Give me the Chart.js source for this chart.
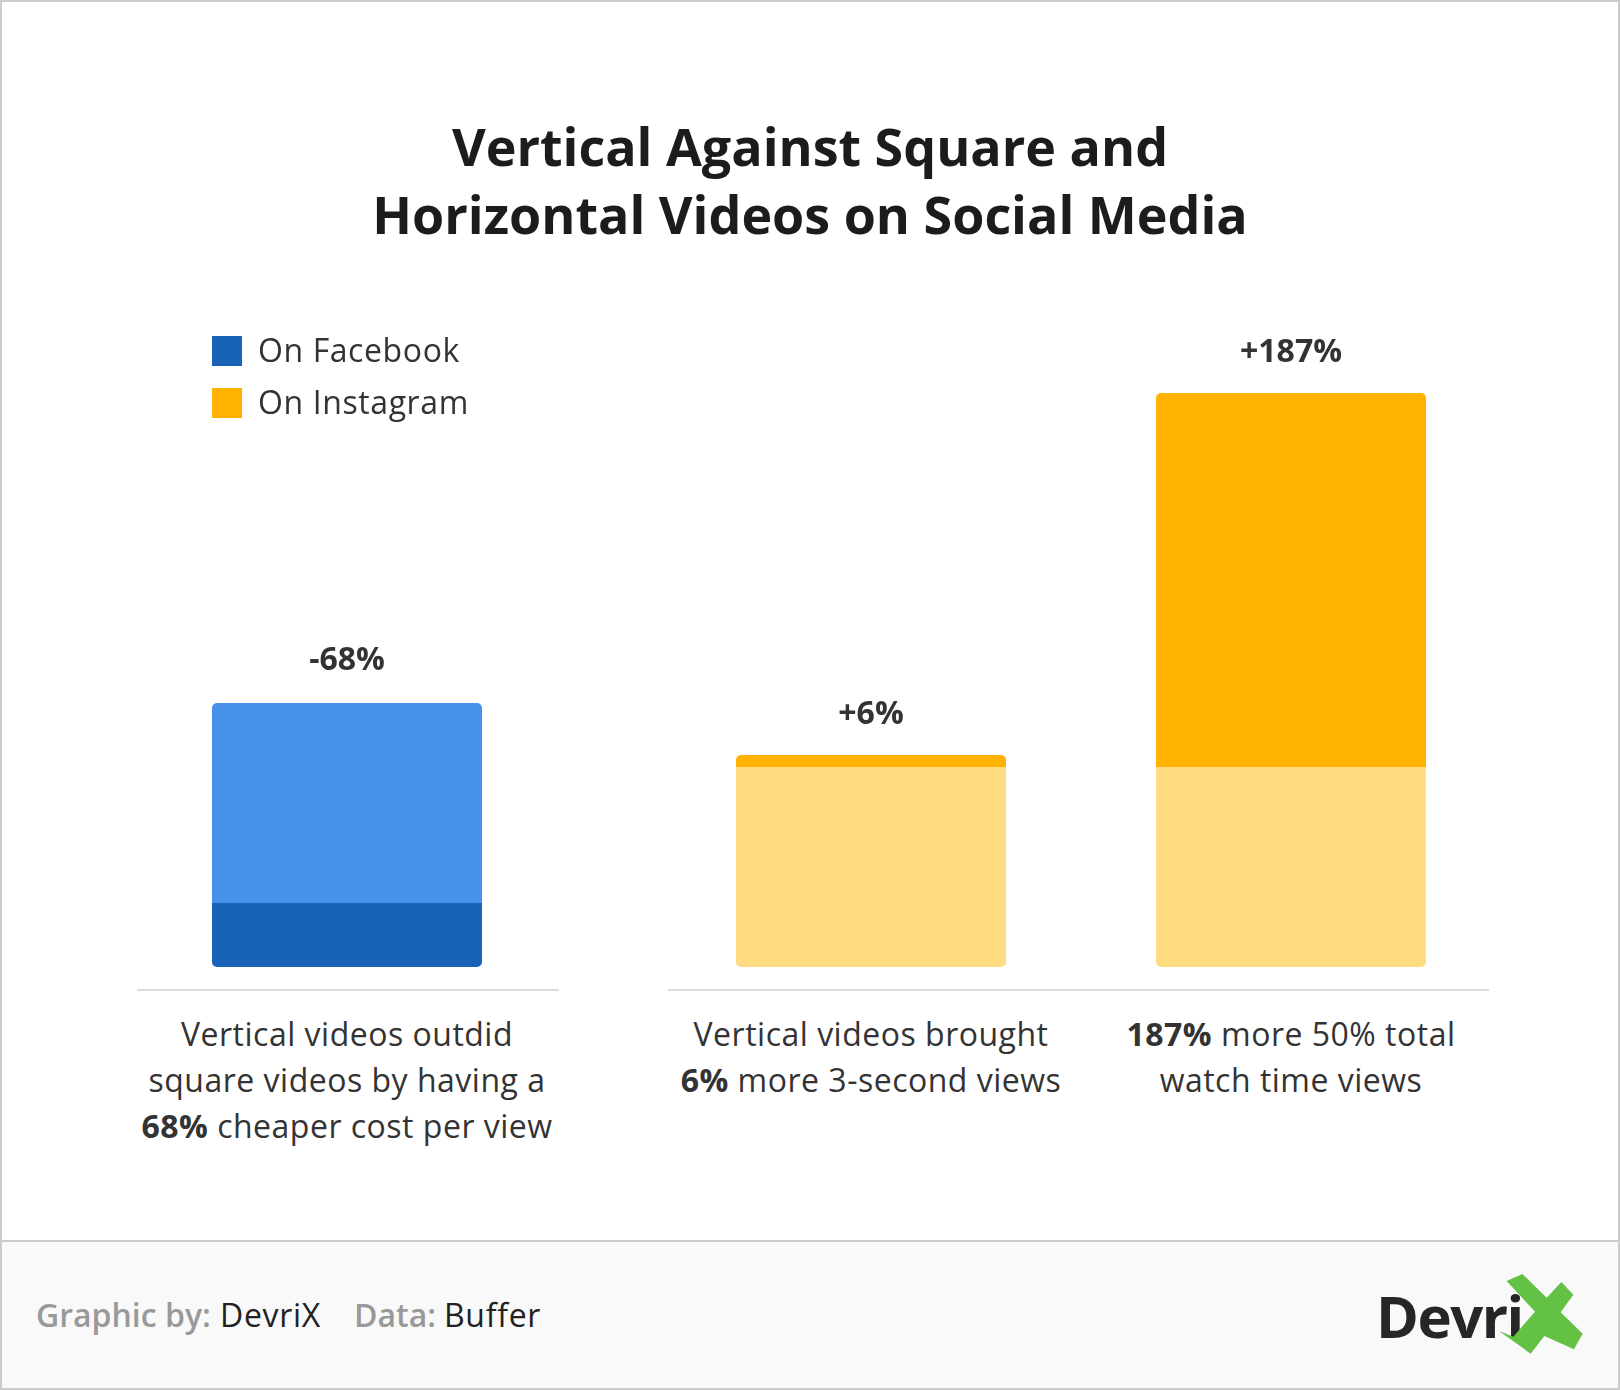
<!DOCTYPE html>
<html>
<head>
<meta charset="utf-8">
<script src="https://cdn.jsdelivr.net/npm/chart.js@4"></script>
<style>
  html, body { margin: 0; padding: 0; background: #fff; }
  body { width: 1620px; height: 1390px; position: relative; overflow: hidden; font-family: "Open Sans", sans-serif; color: #333; }
  #frame { position: absolute; left: 0; top: 0; width: 1616px; height: 1386px; border: 2px solid #ccc; }
  #title { position: absolute; left: 0; width: 1620px; top: 112px; text-align: center; font-weight: 700; font-size: 52px; line-height: 68px; color: #1c1c1c; }
  canvas { position: absolute; top: 330px; }
  #chartLeft { left: 135px; }
  #chartRight { left: 661px; }
  .legend-box { position: absolute; left: 212px; width: 30px; height: 30px; }
  .legend-text { position: absolute; left: 258px; font-size: 32px; line-height: 44px; letter-spacing: 0.6px; white-space: nowrap; }
  .cat { position: absolute; top: 1011px; transform: translateX(-50%); text-align: center; font-size: 32px; line-height: 46px; letter-spacing: 0.5px; white-space: nowrap; }
  .cat b { font-weight: 700; }
  #footer { position: absolute; left: 2px; top: 1240px; width: 1616px; height: 146px; background: #f9f9f9; border-top: 2px solid #ccc; }
  .foot { position: absolute; top: 1293px; font-size: 32px; line-height: 44px; white-space: nowrap; }
  .foot.grey { color: #999; font-weight: 600; }
  .foot.dark { color: #222; letter-spacing: 0.7px; }
  #logo { position: absolute; left: 1376px; top: 1275px; font-size: 58px; line-height: 82px; font-weight: 700; letter-spacing: -1.5px; color: #262626; }
  #logoX { position: absolute; left: 1300px; top: 1220px; }
</style>
</head>
<body>
<div id="frame"></div>
<div id="title">Vertical Against Square and<br>Horizontal Videos on Social Media</div>
<canvas id="chartLeft" width="424" height="661"></canvas>
<canvas id="chartRight" width="840" height="661"></canvas>
<div id="labels"></div>
<div id="footer"></div>
<div class="foot grey" style="left:36px">Graphic by:</div>
<div class="foot dark" style="left:220px">DevriX</div>
<div class="foot grey" style="left:354px">Data:</div>
<div class="foot dark" style="left:444px">Buffer</div>
<div id="logo">Devri</div>
<svg id="logoX" width="320" height="170" viewBox="0 0 960 510">
  <polygon fill="#63c144" points="620,183 667,162 740,233 784,186 820,224 782,277 848,341 822,388 733,348 692,401 597,333 640,350 705,275"/>
</svg>

<script>
const facebookColor = "#1862b8";
const facebookLight = "#4891ea";
const instagramColor = "#ffb200";
const instagramLight = "#ffdc82";

const legendNames = ["On Facebook", "On Instagram"];

// left panel: cost per view
const leftCategories = ["Vertical videos outdid<br>square videos by having a<br><b>68%</b> cheaper cost per view"];
const leftRemaining = [32];
const leftSaved = [100];
const leftValueLabels = ["-68%"];

// right panel: views, compared to 100 for the other formats
const rightCategories = [
    "Vertical videos brought<br><b>6%</b> more 3-second views",
    "<b>187%</b> more 50% total<br>watch time views"
];
const rightBase = [100, 100];
const rightGain = [6, 187];
const rightValueLabels = ["+6%", "+187%"];

const radius = 5;
const bottomCorners = { topLeft: 0, topRight: 0, bottomLeft: radius, bottomRight: radius };
const topCorners = { topLeft: radius, topRight: radius, bottomLeft: 0, bottomRight: 0 };

// baseline under the bars and the percent text over each stack
const panelPlugin = {
    id: "panel",
    afterDraw(chart, args, opts) {
        const ctx = chart.ctx;
        ctx.save();
        ctx.strokeStyle = "#dcdcdc";
        ctx.lineWidth = 2;
        ctx.beginPath();
        ctx.moveTo(opts.lineFrom, chart.chartArea.bottom - 1);
        ctx.lineTo(opts.lineTo, chart.chartArea.bottom - 1);
        ctx.stroke();

        const topBars = chart.getDatasetMeta(chart.data.datasets.length - 1).data;
        ctx.fillStyle = "#333";
        ctx.font = "700 32px 'Open Sans'";
        ctx.textAlign = "center";
        ctx.textBaseline = "middle";
        opts.texts.forEach(function (text, i) {
            ctx.fillText(text, topBars[i].x, topBars[i].y - opts.gap);
        });
        ctx.restore();
    }
};

function makePanel(id, categories, lower, upper, lowerColor, upperColor, valueTexts, lineFrom, lineTo, gap) {
    return new Chart(document.getElementById(id), {
        type: "bar",
        data: {
            labels: categories,
            datasets: [
                { data: lower, backgroundColor: lowerColor, borderRadius: bottomCorners, borderSkipped: false, inflateAmount: 0 },
                { data: upper, backgroundColor: upperColor, borderRadius: topCorners, borderSkipped: false, inflateAmount: 0 }
            ]
        },
        options: {
            responsive: false,
            animation: false,
            devicePixelRatio: 1,
            barThickness: 270,
            layout: { padding: 0 },
            scales: {
                x: { stacked: true, display: false },
                y: { stacked: true, display: false, min: -12, max: 318.5 }
            },
            plugins: {
                legend: { display: false },
                tooltip: { enabled: false },
                panel: { lineFrom: lineFrom, lineTo: lineTo, texts: valueTexts, gap: gap }
            }
        },
        plugins: [panelPlugin]
    });
}

const leftChart = makePanel("chartLeft", leftCategories, leftRemaining, leftSaved, facebookColor, facebookLight, leftValueLabels, 2, 424, 42);
const rightChart = makePanel("chartRight", rightCategories, rightBase, rightGain, instagramLight, instagramColor, rightValueLabels, 7, 828, 40);

// category captions have bold runs, so they sit in html under the bars
function addCaptions(chart, categories) {
    const box = document.getElementById("labels");
    categories.forEach(function (text, i) {
        const div = document.createElement("div");
        div.className = "cat";
        div.innerHTML = text;
        div.style.left = (chart.canvas.offsetLeft + chart.scales.x.getPixelForValue(i)) + "px";
        box.appendChild(div);
    });
}
addCaptions(leftChart, leftCategories);
addCaptions(rightChart, rightCategories);

// legend
[facebookColor, instagramColor].forEach(function (color, i) {
    const top = 336 + i * 52;
    const swatch = document.createElement("div");
    swatch.className = "legend-box";
    swatch.style.top = top + "px";
    swatch.style.background = color;
    document.body.appendChild(swatch);
    const name = document.createElement("div");
    name.className = "legend-text";
    name.style.top = (top - 8) + "px";
    name.textContent = legendNames[i];
    document.body.appendChild(name);
});
</script>
</body>
</html>
